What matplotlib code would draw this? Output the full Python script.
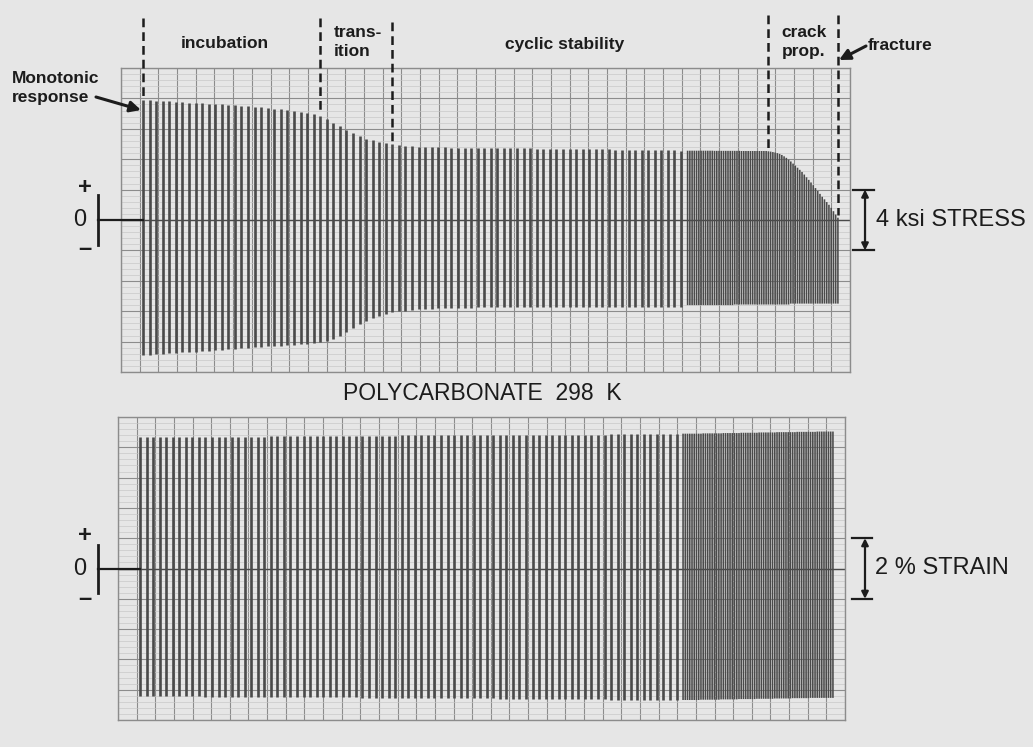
import numpy as np
import matplotlib
matplotlib.use("Agg")
import matplotlib.pyplot as plt
from matplotlib.lines import Line2D
from matplotlib.patches import FancyArrowPatch
from matplotlib.transforms import Affine2D, blended_transform_factory

W, H = 1033, 747

# ---- strip-chart record, one entry per load cycle ----
# stress (ksi), slow chart speed part
stress_peak_slow = [
    7.90, 7.88, 7.85, 7.82, 7.80, 7.78, 7.75, 7.72, 7.70, 7.68,
    7.65, 7.62, 7.60, 7.57, 7.54, 7.51, 7.48, 7.45, 7.41, 7.37,
    7.33, 7.28, 7.23, 7.17, 7.11, 7.05, 6.98, 6.86, 6.66, 6.41,
    6.16, 5.94, 5.74, 5.52, 5.35, 5.24, 5.16, 5.06, 4.99, 4.92,
    4.88, 4.85, 4.83, 4.81, 4.80, 4.78, 4.77, 4.76, 4.75, 4.74,
    4.73, 4.72, 4.72, 4.72, 4.72, 4.72, 4.72, 4.72, 4.72, 4.71,
    4.70, 4.70, 4.70, 4.69, 4.69, 4.68, 4.68, 4.67, 4.66, 4.66,
    4.65, 4.64, 4.63, 4.63, 4.62, 4.61, 4.60, 4.60, 4.59, 4.58,
    4.58, 4.58, 4.57,
]
stress_valley_slow = [
    -8.90, -8.87, -8.84, -8.80, -8.77, -8.74, -8.71, -8.69, -8.66, -8.63,
    -8.60, -8.56, -8.53, -8.51, -8.47, -8.44, -8.40, -8.37, -8.34, -8.31,
    -8.28, -8.26, -8.24, -8.22, -8.18, -8.14, -8.09, -8.02, -7.93, -7.80,
    -7.62, -7.38, -7.10, -6.84, -6.63, -6.46, -6.31, -6.18, -6.08, -6.01,
    -5.96, -5.92, -5.88, -5.86, -5.84, -5.82, -5.81, -5.80, -5.78, -5.77,
    -5.76, -5.75, -5.74, -5.74, -5.74, -5.74, -5.74, -5.74, -5.74, -5.74,
    -5.74, -5.74, -5.74, -5.74, -5.74, -5.74, -5.74, -5.74, -5.74, -5.74,
    -5.74, -5.74, -5.74, -5.74, -5.74, -5.73, -5.73, -5.73, -5.72, -5.72,
    -5.72, -5.72, -5.71,
]
# stress (ksi), fast chart speed part
stress_peak_fast = [
    4.56, 4.56, 4.56, 4.56, 4.56, 4.56, 4.56, 4.56, 4.56, 4.56,
    4.56, 4.56, 4.55, 4.55, 4.55, 4.55, 4.55, 4.55, 4.55, 4.55,
    4.55, 4.55, 4.55, 4.55, 4.54, 4.54, 4.54, 4.54, 4.54, 4.54,
    4.54, 4.54, 4.54, 4.54, 4.54, 4.54, 4.52, 4.50, 4.47, 4.44,
    4.40, 4.35, 4.28, 4.19, 4.09, 3.97, 3.85, 3.71, 3.58, 3.44,
    3.30, 3.16, 2.99, 2.81, 2.64, 2.47, 2.29, 2.10, 1.91, 1.72,
    1.53, 1.36, 1.18, 1.00, 0.80, 0.58, 0.36, 0.15,
]
stress_valley_fast = [
    -5.60, -5.60, -5.60, -5.60, -5.60, -5.60, -5.60, -5.60, -5.60, -5.60,
    -5.60, -5.60, -5.60, -5.60, -5.60, -5.60, -5.60, -5.60, -5.60, -5.60,
    -5.60, -5.56, -5.56, -5.56, -5.56, -5.56, -5.56, -5.56, -5.56, -5.56,
    -5.56, -5.56, -5.56, -5.56, -5.56, -5.56, -5.56, -5.56, -5.56, -5.56,
    -5.56, -5.56, -5.56, -5.56, -5.56, -5.56, -5.50, -5.50, -5.50, -5.50,
    -5.50, -5.50, -5.50, -5.50, -5.50, -5.50, -5.50, -5.50, -5.50, -5.50,
    -5.50, -5.50, -5.50, -5.50, -5.50, -5.50, -5.50, -5.50,
]
# strain (%), slow chart speed part
strain_peak_slow = [
    4.35, 4.35, 4.35, 4.35, 4.34, 4.34, 4.34, 4.34, 4.34, 4.34,
    4.34, 4.34, 4.34, 4.34, 4.35, 4.35, 4.35, 4.35, 4.35, 4.35,
    4.36, 4.36, 4.36, 4.36, 4.36, 4.36, 4.36, 4.37, 4.37, 4.37,
    4.37, 4.37, 4.37, 4.38, 4.38, 4.38, 4.38, 4.38, 4.38, 4.38,
    4.39, 4.39, 4.39, 4.39, 4.39, 4.39, 4.39, 4.40, 4.40, 4.40,
    4.40, 4.40, 4.40, 4.40, 4.40, 4.41, 4.41, 4.41, 4.41, 4.41,
    4.41, 4.41, 4.41, 4.42, 4.42, 4.42, 4.42, 4.42, 4.42, 4.42,
    4.42, 4.42, 4.43, 4.43, 4.43, 4.43, 4.43, 4.43, 4.43, 4.43,
    4.43, 4.43, 4.43,
]
strain_valley_slow = [
    -4.22, -4.22, -4.22, -4.22, -4.22, -4.22, -4.22, -4.22, -4.22, -4.22,
    -4.23, -4.23, -4.23, -4.23, -4.23, -4.23, -4.23, -4.23, -4.23, -4.23,
    -4.24, -4.24, -4.24, -4.24, -4.24, -4.24, -4.24, -4.24, -4.25, -4.25,
    -4.25, -4.25, -4.25, -4.25, -4.26, -4.26, -4.26, -4.26, -4.26, -4.26,
    -4.27, -4.27, -4.27, -4.27, -4.27, -4.28, -4.28, -4.28, -4.28, -4.28,
    -4.29, -4.29, -4.29, -4.29, -4.29, -4.30, -4.30, -4.30, -4.30, -4.30,
    -4.30, -4.31, -4.31, -4.31, -4.31, -4.31, -4.32, -4.32, -4.32, -4.32,
    -4.32, -4.32, -4.33, -4.33, -4.33, -4.33, -4.33, -4.33, -4.33, -4.34,
    -4.34, -4.34, -4.34,
]
# strain (%), fast chart speed part
strain_peak_fast = [
    4.45, 4.45, 4.45, 4.45, 4.45, 4.45, 4.45, 4.45, 4.45, 4.46,
    4.46, 4.46, 4.46, 4.46, 4.46, 4.46, 4.46, 4.46, 4.47, 4.47,
    4.47, 4.47, 4.47, 4.47, 4.47, 4.47, 4.48, 4.48, 4.48, 4.48,
    4.48, 4.48, 4.48, 4.48, 4.49, 4.49, 4.49, 4.49, 4.49, 4.49,
    4.49, 4.49, 4.50, 4.50, 4.50, 4.50, 4.50, 4.50, 4.50, 4.50,
    4.50, 4.51, 4.51, 4.51, 4.51, 4.51, 4.51, 4.51, 4.51, 4.51,
    4.52, 4.52, 4.52, 4.52, 4.52, 4.52, 4.52, 4.52,
]
strain_valley_fast = [
    -4.34, -4.34, -4.34, -4.34, -4.34, -4.34, -4.34, -4.34, -4.33, -4.33,
    -4.33, -4.33, -4.33, -4.33, -4.33, -4.33, -4.33, -4.32, -4.32, -4.32,
    -4.32, -4.32, -4.32, -4.32, -4.32, -4.31, -4.31, -4.31, -4.31, -4.31,
    -4.31, -4.31, -4.31, -4.30, -4.30, -4.30, -4.30, -4.30, -4.30, -4.30,
    -4.30, -4.29, -4.29, -4.29, -4.29, -4.29, -4.29, -4.29, -4.29, -4.28,
    -4.28, -4.28, -4.28, -4.28, -4.28, -4.28, -4.28, -4.27, -4.27, -4.27,
    -4.27, -4.27, -4.27, -4.27, -4.27, -4.27, -4.27, -4.27,
]

# chart paper: 39 x 10 divisions; 2 ksi / div and 1 % / div
n_div_x = 39
stress_lim = (-10, 10)
strain_lim = (-5, 5)
chart_start = 1.18          # divisions, first cycle
div_per_cycle_slow = 0.351  # chart advance per cycle, slow speed
div_per_cycle_fast = 0.12   # chart advance per cycle, fast speed

# cycle at which each stage starts (last one = fracture)
phase_cycles = [0, 27, 38, 119, 150]
phase_line_top = [13.3, 13.3, 13.0, 13.5, 13.5]   # ksi

stress_scale = 4.0   # ksi
strain_scale = 2.0   # %

BG = "#e6e6e6"
GRID = "#8c8c8c"
GRID_MINOR = "#c6c6c6"
TRACE = "#4a4a4a"
INK = "#1c1c1c"
FONT = ["Liberation Sans", "DejaVu Sans"]

plt.rcParams["font.family"] = FONT

n_slow = len(stress_peak_slow)
n_fast = len(stress_peak_fast)
t_slow = chart_start + div_per_cycle_slow * np.arange(n_slow)
t_fast = chart_start + div_per_cycle_slow * n_slow + div_per_cycle_fast * np.arange(n_fast)
t_all = np.concatenate([t_slow, t_fast])
stress_peak_all = np.array(stress_peak_slow + stress_peak_fast)

fig = plt.figure(figsize=(W / 100, H / 100), dpi=100, facecolor=BG)
PX = Affine2D().scale(1 / W, -1 / H).translate(0, 1) + fig.transFigure

ax1 = fig.add_axes([121 / W, 1 - 372 / H, 729 / W, 304 / H])
ax2 = fig.add_axes([118 / W, 1 - 720 / H, 727 / W, 303 / H])


def setup_grid(ax, lim, per_div):
    ax.set_xlim(0, n_div_x)
    ax.set_ylim(*lim)
    ax.set_facecolor(BG)
    ax.set_xticks(np.arange(0, n_div_x + 1))
    ax.set_yticks(np.arange(lim[0], lim[1] + per_div / 2, per_div))
    ax.set_yticks(np.arange(lim[0], lim[1], per_div / 5), minor=True)
    ax.grid(which="major", color=GRID, lw=0.8)
    ax.grid(which="minor", axis="y", color=GRID_MINOR, lw=0.45)
    ax.tick_params(which="both", length=0, labelbottom=False, labelleft=False)
    for s in ax.spines.values():
        s.set_color(GRID)
        s.set_linewidth(1.0)
    ax.set_axisbelow(True)
    ax.axhline(0, color=TRACE, lw=1.0, zorder=1)


def draw_record(ax, peak_slow, valley_slow, peak_fast, valley_fast):
    ax.vlines(t_slow, valley_slow, peak_slow, color=TRACE, lw=1.9, zorder=2)
    # fast chart speed: cycles overlap into a dark band
    ax.vlines(t_fast, valley_fast, peak_fast, color=TRACE, lw=1.15,
              snap=False, zorder=2)


setup_grid(ax1, stress_lim, 2)
setup_grid(ax2, strain_lim, 1)
draw_record(ax1, stress_peak_slow, stress_valley_slow, stress_peak_fast, stress_valley_fast)
draw_record(ax2, strain_peak_slow, strain_valley_slow, strain_peak_fast, strain_valley_fast)

# stage boundaries
for c, top in zip(phase_cycles, phase_line_top):
    x = t_all[c]
    ax1.plot([x, x], [top, stress_peak_all[c] + 0.2], ls=(0, (3.5, 2)),
             lw=1.8, color=INK, clip_on=False, zorder=3)


def ptext(x, y, s, **kw):
    kw.setdefault("color", INK)
    fig.text(x, y, s, transform=PX, **kw)


def pline(xs, ys, lw=1.6):
    fig.add_artist(Line2D(xs, ys, transform=PX, color=INK, lw=lw))


def parrow(p0, p1, style="-|>", lw=1.8, ms=14):
    fig.add_artist(FancyArrowPatch(p0, p1, transform=PX, arrowstyle=style,
                                   mutation_scale=ms, lw=lw, color=INK,
                                   shrinkA=0, shrinkB=0))


# stage labels
lab = dict(fontsize=12.5, fontweight="bold", va="center")
ptext(225, 44, "incubation", ha="center", **lab)
ptext(334, 42, "trans-\nition", ha="left", linespacing=1.4, **lab)
ptext(565, 44, "cyclic stability", ha="center", **lab)
ptext(804, 42, "crack\nprop.", ha="center", linespacing=1.4, **lab)
ptext(868, 45, "fracture", ha="left", **lab)
ptext(12, 88, "Monotonic\nresponse", ha="left", linespacing=1.35, **lab)
parrow((96, 97), (141, 110), lw=2.2, ms=16)
parrow((866, 46), (839, 60), lw=2.2, ms=16)

ptext(482, 393, "POLYCARBONATE  298  K", ha="center", va="center", fontsize=16.5)

# zero markers on the left
for y0, half in [(220, 25), (569, 24)]:
    ptext(80, y0, "0", ha="center", va="center", fontsize=17)
    ptext(85, y0 - 33, "+", ha="center", va="center", fontsize=17, fontweight="bold")
    ptext(85, y0 + 29, "\u2013", ha="center", va="center", fontsize=17, fontweight="bold")
    pline([98, 98], [y0 - half, y0 + half], lw=2.0)
pline([98, 143], [220, 220], lw=1.6)
pline([98, 140], [569, 569], lw=1.6)

# calibration bars on the right
for ax, scale, xa, xt0, xt1, label, xtxt in [
    (ax1, stress_scale, 1.0206, 1.004, 1.033, "4 ksi STRESS", 1.036),
    (ax2, strain_scale, 1.0275, 1.0096, 1.037, "2 % STRAIN", 1.041),
]:
    tr = blended_transform_factory(ax.transAxes, ax.transData)
    for yv in (scale / 2, -scale / 2):
        ax.plot([xt0, xt1], [yv, yv], color=INK, lw=1.6, transform=tr, clip_on=False)
    ax.add_artist(FancyArrowPatch((xa, scale / 2), (xa, -scale / 2), transform=tr,
                                  arrowstyle="<|-|>", mutation_scale=10, lw=1.6,
                                  color=INK, shrinkA=0, shrinkB=0, clip_on=False))
    ax.text(xtxt, 0, label, transform=tr, ha="left", va="center",
            fontsize=17, color=INK, clip_on=False)

fig.savefig("out.png", dpi=100, facecolor=BG)
